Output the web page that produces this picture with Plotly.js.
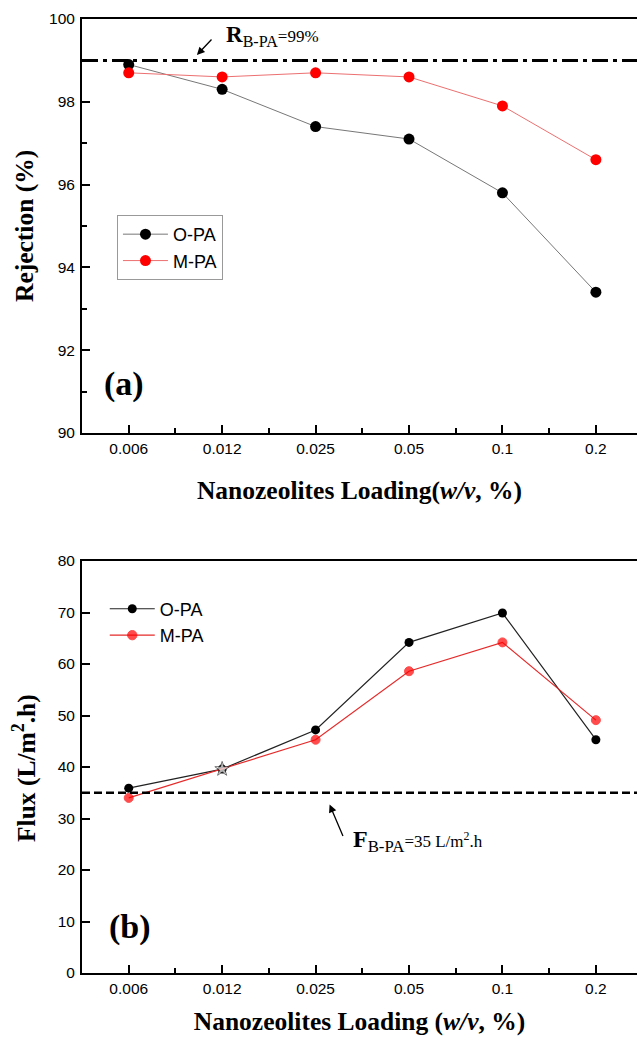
<!DOCTYPE html>
<html><head><meta charset="utf-8">
<script src="https://cdn.plot.ly/plotly-3.0.1.min.js"></script>
<style>html,body{margin:0;padding:0;background:#fff}</style></head>
<body><div id="chart" style="width:637px;height:1037px"></div>
<script>
const loadings = ['0.006','0.012','0.025','0.05','0.1','0.2'];
const rejectionOPA = [98.9, 98.3, 97.4, 97.1, 95.8, 93.4];
const rejectionMPA = [98.7, 98.6, 98.7, 98.6, 97.9, 96.6];
const fluxOPA = [35.9, 39.6, 47.2, 64.2, 69.9, 45.3];
const fluxMPA = [34.0, 39.6, 45.3, 58.6, 64.2, 49.1];
const rejectionBPA = 99;
const fluxBPA = 35;

const xIdx = loadings.map((_, i) => i);
const minorX = loadings.map((_, i) => i + 0.5);
const SANS = 'Liberation Sans, Arial, sans-serif';
const SERIF = 'Liberation Serif, Times New Roman, serif';

const traces = [
  {x: xIdx, y: rejectionOPA, name: 'O-PA', type: 'scatter', mode: 'lines+markers',
   xaxis: 'x', yaxis: 'y', legend: 'legend',
   line: {color: '#777', width: 1}, marker: {color: '#000', size: 11}},
  {x: xIdx, y: rejectionMPA, name: 'M-PA', type: 'scatter', mode: 'lines+markers',
   xaxis: 'x', yaxis: 'y', legend: 'legend',
   line: {color: '#ec7070', width: 1}, marker: {color: '#ff0000', size: 11}},
  {x: xIdx, y: fluxOPA, name: 'O-PA', type: 'scatter', mode: 'lines+markers',
   xaxis: 'x2', yaxis: 'y2', legend: 'legend2',
   line: {color: '#222', width: 1.2}, marker: {color: '#000', size: 9}},
  {x: xIdx, y: fluxMPA, name: 'M-PA', type: 'scatter', mode: 'lines+markers',
   xaxis: 'x2', yaxis: 'y2', legend: 'legend2',
   line: {color: '#e52a2a', width: 1.2},
   marker: {color: ['#ff0000','#ffffff','#ff0000','#ff0000','#ff0000','#ff0000'],
            symbol: ['circle','star','circle','circle','circle','circle'],
            line: {color: ['#ff0000','#333','#ff0000','#ff0000','#ff0000','#ff0000'], width: 1},
            size: [9, 11, 9, 9, 9, 9]}}
];

function xAxis(anchor, titleText, standoff) {
  return {
    anchor: anchor, domain: [0, 1], range: [-0.5, 5.44],
    tickmode: 'array', tickvals: xIdx, ticktext: loadings,
    ticks: 'inside', ticklen: 8, tickwidth: 2, tickcolor: '#000',
    minor: {tickmode: 'array', tickvals: minorX, ticks: 'inside', ticklen: 5, tickwidth: 2, tickcolor: '#000'},
    showline: true, linewidth: 2, linecolor: '#000', mirror: true,
    showgrid: false, zeroline: false, automargin: false,
    tickfont: {family: SANS, size: 15.5, color: '#000'},
    title: {text: titleText, font: {family: SERIF, size: 25.5, color: '#000'}, standoff: standoff}
  };
}

function yAxis(anchor, domain, range, dtick, minor) {
  const ax = {
    anchor: anchor, domain: domain, range: range, dtick: dtick,
    ticks: 'inside', ticklen: 8, tickwidth: 2, tickcolor: '#000',
    showline: true, linewidth: 2, linecolor: '#000', mirror: false,
    showgrid: false, zeroline: false, automargin: false, ticklabelstandoff: 2,
    tickfont: {family: SANS, size: 15.5, color: '#000'}
  };
  if (minor) ax.minor = {dtick: minor, ticks: 'inside', ticklen: 5, tickwidth: 2, tickcolor: '#000'};
  return ax;
}

const layout = {
  width: 637, height: 1037,
  margin: {l: 82, r: 0, t: 0, b: 0},
  paper_bgcolor: '#fff', plot_bgcolor: '#fff',
  showlegend: true,
  xaxis: xAxis('y', '<b>Nanozeolites Loading(<i>w/v</i>, %)</b>', 26),
  xaxis2: xAxis('y2', '<b>Nanozeolites Loading (<i>w/v</i>, %)</b>', 17),
  yaxis: yAxis('x', [0.5825, 0.9817], [90, 100], 2, 1),
  yaxis2: yAxis('x2', [0.0617, 0.459], [0, 80], 10, null),
  legend: {x: 0.063, y: 0.7927, xanchor: 'left', yanchor: 'top', itemwidth: 45,
           bordercolor: '#999', borderwidth: 1, bgcolor: 'rgba(255,255,255,0)',
           font: {family: SANS, size: 18, color: '#000'}, tracegroupgap: 0},
  legend2: {x: 0.041, y: 0.4305, xanchor: 'left', yanchor: 'top', itemwidth: 45,
            borderwidth: 0, bgcolor: 'rgba(255,255,255,0)',
            font: {family: SANS, size: 18, color: '#000'}},
  shapes: [
    {type: 'line', xref: 'x domain', yref: 'y', x0: 0, x1: 1, y0: rejectionBPA, y1: rejectionBPA,
     line: {color: '#000', width: 3, dash: '16px,5px,4px,5px'}},
    {type: 'line', xref: 'x2 domain', yref: 'y2', x0: 0, x1: 1, y0: fluxBPA, y1: fluxBPA,
     line: {color: '#000', width: 2.5, dash: '8px,4px'}}
  ],
  annotations: [
    {xref: 'x', yref: 'y', x: 0.73, y: 99.13, text: '', showarrow: true,
     ax: 16, ay: -17, arrowhead: 2, arrowsize: 1.2, arrowwidth: 1.3, arrowcolor: '#000'},
    {xref: 'x', yref: 'y', x: 1.02, y: 99.6, xanchor: 'left', yanchor: 'middle', showarrow: false,
     text: '<b>R</b><sub>B-PA</sub><span style="font-size:17px">=99%</span>',
     font: {family: SERIF, size: 23, color: '#000'}},
    {xref: 'x2', yref: 'y2', x: 2.15, y: 32.7, text: '', showarrow: true,
     ax: 14, ay: 33, arrowhead: 2, arrowsize: 1.2, arrowwidth: 1.3, arrowcolor: '#000'},
    {xref: 'x2', yref: 'y2', x: 2.38, y: 25.6, xanchor: 'left', yanchor: 'middle', showarrow: false,
     text: '<b>F</b><sub>B-PA</sub><span style="font-size:17px">=35 L/m<sup>2</sup>.h</span>',
     font: {family: SERIF, size: 24, color: '#000'}},
    {xref: 'paper', yref: 'paper', x: -0.1045, y: 1 - 226/1037, xanchor: 'center', yanchor: 'middle',
     textangle: -90, showarrow: false, text: '<b>Rejection (%)</b>',
     font: {family: SERIF, size: 25.5, color: '#000'}},
    {xref: 'paper', yref: 'paper', x: -0.1045, y: 1 - 768/1037, xanchor: 'center', yanchor: 'middle',
     textangle: -90, showarrow: false, text: '<b>Flux (L/m<sup>2</sup>.h)</b>',
     font: {family: SERIF, size: 25.5, color: '#000'}},
    {xref: 'paper', yref: 'paper', x: (124 - 82) / 555, y: 1 - 384/1037, xanchor: 'center', yanchor: 'middle',
     showarrow: false, text: '<b>(a)</b>', font: {family: SERIF, size: 34, color: '#000'}},
    {xref: 'paper', yref: 'paper', x: (130 - 82) / 555, y: 1 - 927/1037, xanchor: 'center', yanchor: 'middle',
     showarrow: false, text: '<b>(b)</b>', font: {family: SERIF, size: 34, color: '#000'}}
  ]
};

Plotly.newPlot('chart', traces, layout, {displayModeBar: false, staticPlot: true});
</script></body></html>
